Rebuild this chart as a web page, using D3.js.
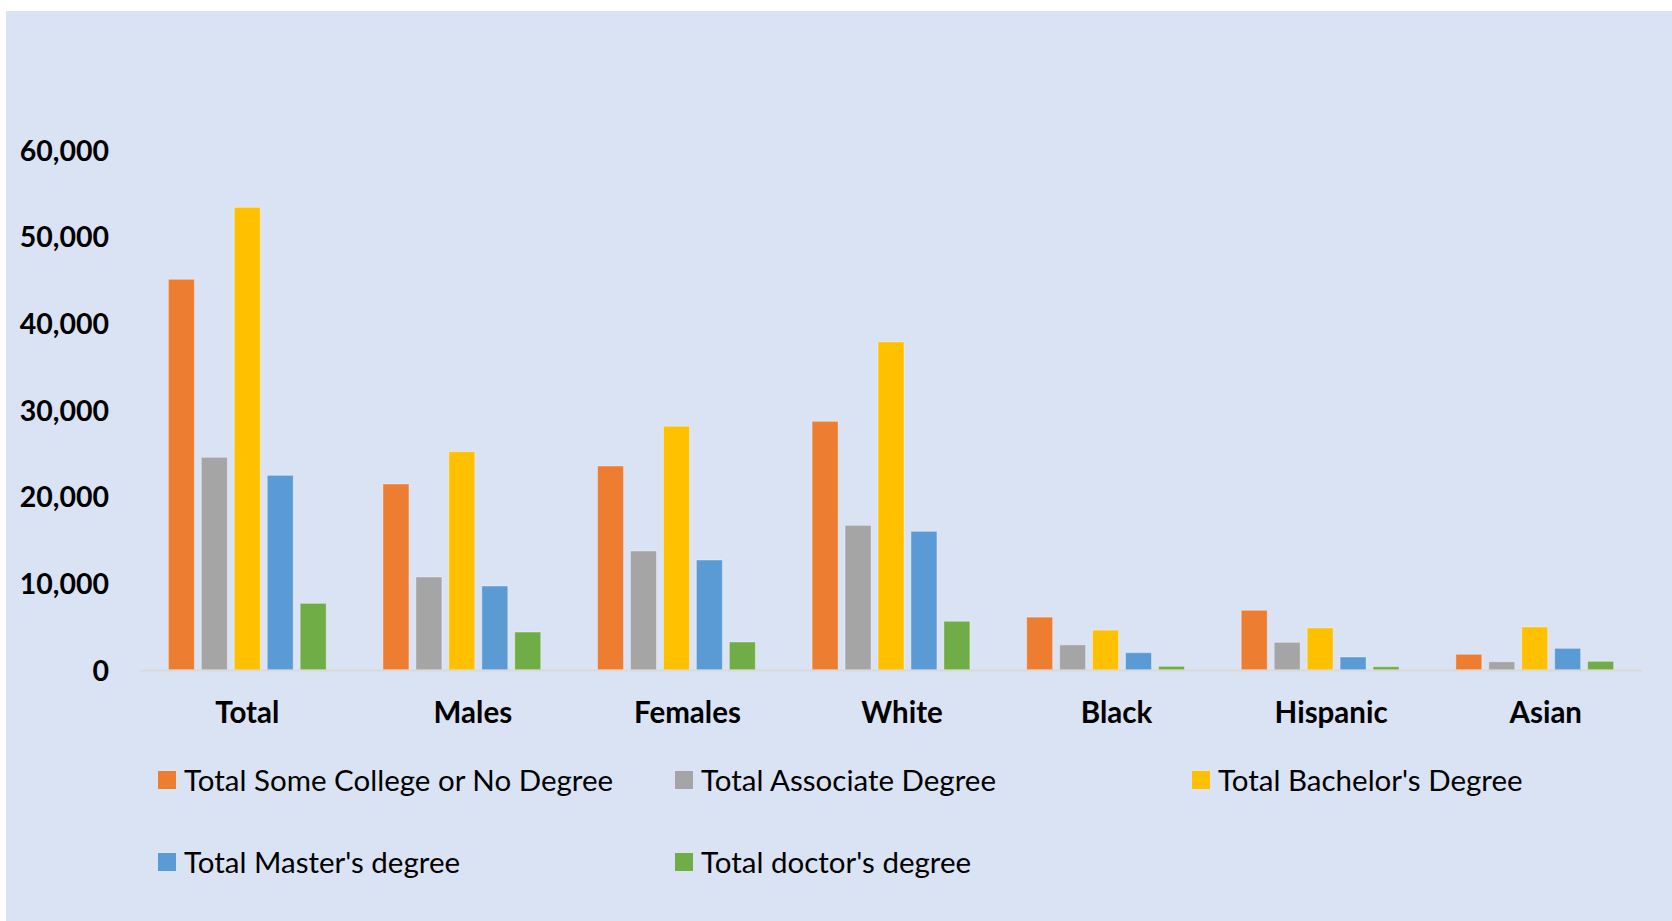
<!DOCTYPE html>
<html>
<head>
<meta charset="utf-8">
<script src="https://cdn.jsdelivr.net/npm/d3@7"></script>
<style>
  html, body { margin: 0; padding: 0; background: #ffffff; }
  svg { display: block; }
</style>
</head>
<body>
<svg id="chart" width="1672" height="921"></svg>
<script>
const categories = ["Total", "Males", "Females", "White", "Black", "Hispanic", "Asian"];
const seriesNames = [
  "Total Some College or No Degree",
  "Total Associate Degree",
  "Total Bachelor's Degree",
  "Total Master's degree",
  "Total doctor's degree"
];
const someCollege = [45080, 21460, 23540, 28690, 6100, 6890, 1810];
const associate   = [24540, 10730, 13730, 16690, 2900, 3190, 950];
const bachelor    = [53380, 25190, 28120, 37850, 4600, 4850, 4960];
const master      = [22460, 9690, 12690, 16000, 2000, 1500, 2500];
const doctor      = [7690, 4380, 3230, 5620, 420, 380, 1000];
const yTicks = [0, 10000, 20000, 30000, 40000, 50000, 60000];
const colors = ["#ed7d31", "#a5a5a5", "#ffc000", "#5b9bd5", "#70ad47"];

const seriesValues = [someCollege, associate, bachelor, master, doctor];

const svg = d3.select("#chart");
const W = 1672, H = 921;

// background panel
svg.append("rect").attr("x", 6).attr("y", 11).attr("width", W - 6).attr("height", H - 11)
  .attr("fill", "#dae3f3");

const plotLeft = 140, plotRight = 1642, plotTop = 150, plotBottom = 670;

const x0 = d3.scaleBand().domain(categories).range([plotLeft, plotRight]).padding(0);
const groupPad = 28.4;
const x1 = d3.scaleBand().domain(d3.range(seriesNames.length))
  .range([groupPad, x0.bandwidth() - groupPad]).paddingInner(0.212).paddingOuter(0);
const y = d3.scaleLinear().domain([0, 60000]).range([plotBottom, plotTop]);

// y axis labels
const yAxis = d3.axisLeft(y).tickValues(yTicks).tickSize(0).tickPadding(0)
  .tickFormat(d3.format(","));
const yg = svg.append("g").attr("transform", "translate(109,0)").call(yAxis);
yg.select(".domain").remove();
yg.selectAll("text")
  .attr("font-family", "Lato, 'Open Sans', sans-serif")
  .attr("font-weight", "bold")
  .attr("font-size", 28.5)
  .attr("fill", "#000")
  .attr("dy", "0.36em");

// bars
const groups = svg.append("g").selectAll("g").data(categories).join("g")
  .attr("transform", d => `translate(${x0(d)},0)`);
groups.selectAll("rect")
  .data((c, ci) => seriesValues.map((vals, si) => ({ si, v: vals[ci] })))
  .join("rect")
  .attr("x", d => x1(d.si))
  .attr("y", d => y(d.v))
  .attr("width", x1.bandwidth())
  .attr("height", d => y(0) - y(d.v))
  .attr("fill", d => colors[d.si])
  .attr("stroke", "#ffffff")
  .attr("stroke-opacity", 0.35)
  .attr("stroke-width", 1);

// x axis line + labels
const xAxis = d3.axisBottom(x0).tickSize(0).tickPadding(0);
const xg = svg.append("g").attr("transform", `translate(0,${plotBottom})`).call(xAxis);
xg.select(".domain").attr("stroke", "#d9d9d9").attr("stroke-width", 2);
xg.selectAll("text")
  .attr("font-family", "Lato, 'Open Sans', sans-serif")
  .attr("font-weight", "bold")
  .attr("font-size", 29.5)
  .attr("fill", "#000")
  .attr("dy", 0)
  .attr("dx", (d, i) => i === 0 ? 0 : 11)
  .attr("y", 53);

// legend
const legendPos = [
  { x: 158, y: 780 }, { x: 675, y: 780 }, { x: 1192, y: 780 },
  { x: 158, y: 862 }, { x: 675, y: 862 }
];
const lg = svg.append("g").selectAll("g").data(seriesNames).join("g")
  .attr("transform", (d, i) => `translate(${legendPos[i].x},${legendPos[i].y})`);
lg.append("rect").attr("x", 0).attr("y", -9).attr("width", 18).attr("height", 18)
  .attr("fill", (d, i) => colors[i]);
lg.append("text").attr("x", 26).attr("y", 0).attr("dy", "0.36em")
  .attr("font-family", "Lato, 'Open Sans', sans-serif")
  .attr("font-size", 29.5)
  .attr("fill", "#000")
  .text(d => d);
</script>
</body>
</html>
